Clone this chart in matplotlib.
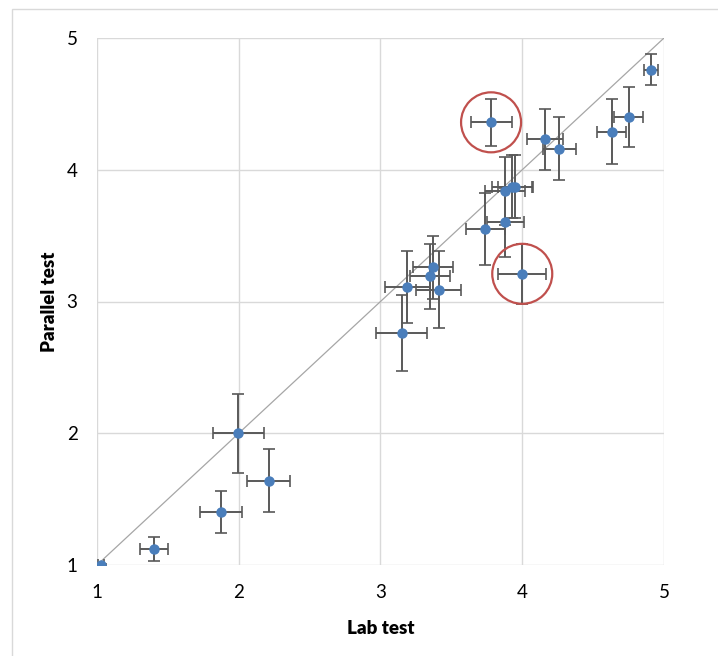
import matplotlib.pyplot as plt
from matplotlib.patches import Rectangle, Ellipse

plt.rcParams['font.family'] = ['Lato', 'DejaVu Sans']

# lab test values, parallel test values and their error bars
lab = [1.03, 1.40, 1.875, 1.995, 2.21, 3.15, 3.19, 3.35, 3.37, 3.41,
       3.74, 3.88, 3.88, 3.93, 3.95, 4.00, 3.78, 4.16, 4.26, 4.63, 4.75, 4.91]
par = [1.00, 1.12, 1.40, 2.00, 1.64, 2.76, 3.11, 3.19, 3.26, 3.09,
       3.55, 3.60, 3.84, 3.87, 3.87, 3.21, 4.36, 4.23, 4.16, 4.29, 4.40, 4.76]
lab_err = [0.02, 0.10, 0.15, 0.18, 0.15, 0.18, 0.16, 0.14, 0.14, 0.16,
           0.14, 0.13, 0.14, 0.145, 0.12, 0.17, 0.145, 0.13, 0.116, 0.10, 0.10, 0.05]
par_err = [0.01, 0.09, 0.16, 0.30, 0.24, 0.29, 0.27, 0.25, 0.24, 0.29,
           0.27, 0.26, 0.26, 0.24, 0.24, 0.23, 0.18, 0.23, 0.24, 0.25, 0.23, 0.12]

# circled outliers
circled = [(4.00, 3.21), (3.78, 4.36)]

fig = plt.figure(figsize=(7.18, 6.56), dpi=100)
ax = fig.add_axes([97/718, 1 - 565/656, (664 - 97)/718, (565 - 38)/656])

ax.plot([1, 5], [1, 5], color='#a6a6a6', lw=0.9, zorder=1)
ax.errorbar(lab, par, xerr=lab_err, yerr=par_err, fmt='o', color='#4a7ebb',
            ms=6.5, ecolor='#595959', elinewidth=1.4, capsize=4, capthick=1.2, zorder=3)

for cx, cy in circled:
    w = 60 / 141.75
    h = 60 / 131.75
    ax.add_patch(Ellipse((cx, cy), w, h, fill=False, ec='#c0504d', lw=1.6, zorder=4))

ax.set_xlim(1, 5)
ax.set_ylim(1, 5)
ax.set_xticks([1, 2, 3, 4, 5])
ax.set_yticks([1, 2, 3, 4, 5])
ax.grid(True, color='#d9d9d9', lw=1)
ax.set_axisbelow(True)
for s in ax.spines.values():
    s.set_visible(False)
ax.tick_params(length=0, labelsize=13.5, pad=14)
ax.tick_params(axis='y', pad=14)
ax.set_xlabel('Lab test', fontsize=13.5, fontweight='heavy', labelpad=13)
ax.set_ylabel('Parallel test', fontsize=13.5, fontweight='heavy', labelpad=6)

fig.patches.append(Rectangle((12/718, -0.01), 1.0, 1 - 9/656 + 0.01, transform=fig.transFigure,
                             fill=False, ec='#d9d9d9', lw=1))

fig.savefig('out.png', dpi=100)
